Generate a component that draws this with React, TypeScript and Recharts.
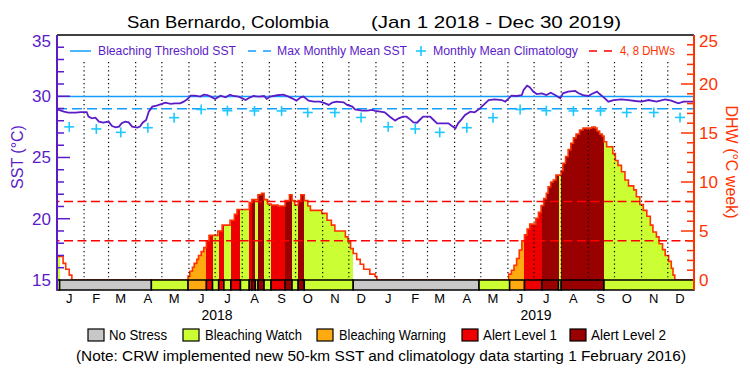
import React from 'react'
import { ComposedChart, Line, Area, XAxis, YAxis, ReferenceLine, ReferenceArea } from 'recharts'

const LAST_DAY = 729

// month boundaries (day index from Jan 1 2018) and their labels
const monthLetters = ['J', 'F', 'M', 'A', 'M', 'J', 'J', 'A', 'S', 'O', 'N', 'D', 'J', 'F', 'M', 'A', 'M', 'J', 'J', 'A', 'S', 'O', 'N', 'D']
const monthStarts = [0, 31, 59, 90, 120, 151, 181, 212, 243, 273, 304, 334, 365, 396, 424, 455, 485, 516, 546, 577, 608, 638, 669, 699]
const monthMid = monthStarts.map((d) => d + 14)
const yearLabels = ['2018', '2019']

// monthly mean climatology, Jan..Dec
const climatology = [27.5, 27.33, 27.05, 27.43, 28.25, 28.92, 28.82, 28.8, 28.8, 28.67, 28.67, 28.27]
const maxMonthlyMean = 28.97
const bleachingThreshold = 29.97
const dhwLevels = [4, 8]

// [day, SST]
const sstSeries = [
  [0, 28.93], [8, 28.74], [13, 28.66], [21, 28.66], [27, 28.71], [34, 28.71], [36, 28.33], [40, 28.2],
  [44, 28.25], [48, 27.93], [53, 27.84], [59, 27.93], [63, 27.57], [67, 27.46], [71, 27.52], [74, 27.79],
  [78, 27.93], [82, 27.87], [86, 27.52], [92, 27.44], [95, 27.52], [98, 27.84], [102, 28.06], [105, 28.74],
  [109, 29.15], [114, 29.23], [120, 29.37], [124, 29.48], [130, 29.37], [135, 29.42], [141, 29.42], [145, 29.56],
  [149, 29.75], [153, 30.05], [158, 30.05], [164, 29.97], [168, 30.13], [172, 30.1], [176, 29.97], [181, 29.78],
  [187, 30.05], [193, 29.91], [198, 30.13], [202, 30.02], [208, 29.97], [216, 29.69], [221, 29.91], [225, 30.02],
  [231, 29.97], [237, 30.02], [240, 29.78], [244, 29.97], [252, 30.08], [259, 30.13], [265, 29.97], [269, 29.83],
  [274, 29.64], [279, 29.91], [282, 29.97], [288, 29.64], [294, 29.56], [301, 29.56], [307, 29.42], [311, 29.29],
  [315, 29.48], [320, 29.56], [328, 29.5], [332, 29.29], [338, 29.15], [341, 28.93], [349, 28.82], [355, 28.82],
  [361, 28.88], [364, 28.8], [370, 28.74], [375, 28.69], [381, 28.33], [387, 28.01], [391, 28.2], [396, 28.33],
  [400, 28.33], [404, 28.11], [408, 27.87], [412, 27.84], [415, 28.06], [419, 28.33], [427, 28.33], [431, 28.06],
  [435, 27.79], [440, 27.79], [448, 27.79], [452, 27.57], [456, 27.38], [459, 27.79], [463, 28.11], [467, 28.47],
  [473, 28.74], [478, 28.69], [484, 29.01], [490, 29.42], [494, 29.69], [501, 29.75], [509, 29.69], [513, 29.56],
  [517, 29.83], [520, 30.05], [526, 30.02], [532, 30.1], [534, 30.51], [538, 30.86], [541, 30.73], [545, 30.38],
  [549, 30.18], [555, 30.24], [560, 30.1], [565, 30.29], [570, 30.1], [576, 29.83], [579, 30.24], [585, 30.38],
  [593, 30.43], [597, 30.24], [602, 30.1], [608, 30.02], [612, 30.18], [618, 30.38], [621, 30.18], [627, 29.83],
  [631, 29.56], [637, 29.69], [646, 29.75], [654, 29.69], [662, 29.61], [669, 29.56], [677, 29.69], [686, 29.56],
  [696, 29.75], [703, 29.64], [711, 29.42], [717, 29.56], [724, 29.56], [729, 29.56],
]

// [day, DHW] change points (step function)
const dhwSeries = [
  [0, 2.4], [7, 1.7], [10, 1.1], [14, 0.5], [17, 0], [150, 0.4], [152, 0.9], [155, 1.3], [157, 1.7],
  [160, 2.1], [162, 2.5], [165, 2.9], [168, 3.3], [171, 4.0], [174, 4.55], [184, 5.0], [189, 5.6], [198, 6.1],
  [203, 6.7], [206, 7.2], [220, 7.9], [223, 8.2], [230, 8.7], [234, 8.85], [237, 8.2], [241, 7.75], [245, 7.65],
  [253, 7.55], [261, 8.1], [266, 8.7], [269, 8.1], [272, 7.65], [276, 8.1], [279, 8.7], [283, 8.1], [287, 7.55],
  [290, 7.1], [303, 6.8], [309, 6.1], [314, 5.6], [318, 5.0], [330, 4.4], [333, 3.9], [336, 3.2], [339, 2.7],
  [343, 2.1], [347, 1.6], [351, 1.1], [358, 0.6], [364, 0.35], [366, 0],
  [517, 0.6], [520, 1.0], [523, 1.5], [526, 2.2], [529, 3.06], [532, 4.0], [535, 4.6], [538, 5.2], [541, 5.7],
  [548, 6.3], [551, 6.9], [554, 7.6], [557, 8.3], [560, 8.85], [562, 9.5], [565, 10.0], [568, 10.2], [571, 10.7],
  [577, 11.15], [579, 11.9], [582, 12.6], [585, 13.3], [588, 13.95], [591, 14.5], [594, 14.9], [598, 15.3],
  [602, 15.5], [607, 15.4], [609, 15.5], [612, 15.6], [616, 15.5], [618, 15.2], [621, 14.9], [624, 14.7],
  [626, 14.1], [629, 13.6], [636, 12.9], [639, 12.2], [642, 11.7], [646, 11.05], [650, 10.2], [654, 9.6],
  [660, 9.2], [663, 8.5], [667, 7.7], [671, 7.1], [675, 6.5], [679, 5.6], [682, 4.9], [686, 4.4], [689, 3.7],
  [693, 3.1], [696, 2.5], [700, 1.9], [703, 1.2], [705, 0.5], [707, 0], [729, 0],
]

// [start day, end day, level]  0 no stress .. 4 alert level 2
const statusSegments = [
  [0, 3, 1], [3, 108, 0], [108, 150, 1], [150, 171, 2], [171, 178, 3], [178, 185, 1], [185, 191, 3],
  [191, 199, 1], [199, 210, 3], [210, 220, 1], [220, 223, 3], [223, 227, 4], [227, 230, 1], [230, 237, 4],
  [237, 245, 1], [245, 261, 3], [261, 269, 4], [269, 276, 1], [276, 283, 4], [283, 339, 1], [339, 483, 0],
  [483, 518, 1], [518, 535, 2], [535, 555, 3], [555, 574, 4], [574, 577, 1], [577, 626, 4], [626, 729, 1],
]
const statusNames = ['No Stress', 'Bleaching Watch', 'Bleaching Warning', 'Alert Level 1', 'Alert Level 2']
const statusColors = ['#c8c8c8', '#ccff33', '#ffaa11', '#ee0000', '#990000']

const sstTicks = [15, 16, 17, 18, 19, 20, 21, 22, 23, 24, 25, 26, 27, 28, 29, 30, 31, 32, 33, 34, 35]
const dhwTicks = [0, 1, 2, 3, 4, 5, 6, 7, 8, 9, 10, 11, 12, 13, 14, 15, 16, 17, 18, 19, 20, 21, 22, 23, 24, 25]

const sstData = sstSeries.map(([day, v]) => ({ day, sst: v }))
const dhwData = dhwSeries.map(([day, v]) => ({ day, dhw: v }))
const climData = [0, 1].flatMap((y) => climatology.map((v, m) => ({ day: monthMid[y * 12 + m], clim: v })))

const PURPLE = '#5b1cc8'
const DHW_RED = '#ff3300'
const THRESH_BLUE = '#119eff'
const CROSS_BLUE = '#1ec8ff'
const FONT = 'Liberation Sans, Arial, sans-serif'

const SstTick = ({ x, y, payload }: any) => {
  const v = payload.value
  const major = v % 5 === 0
  const len = v === 15 || v === 35 ? 0 : major ? 13 : 7
  return (
    <g>
      {len > 0 && <line x1={x} x2={x + len} y1={y} y2={y} stroke={PURPLE} strokeWidth={1.5} />}
      {major && (
        <text x={x - 6} y={v === 35 ? y + 6 : y} dy="0.35em" textAnchor="end" fill={PURPLE} fontSize={17} fontFamily={FONT}>
          {v}
        </text>
      )}
    </g>
  )
}

const DhwTick = ({ x, y, payload }: any) => {
  const v = payload.value
  const major = v % 5 === 0
  const len = v === 0 || v === 25 ? 0 : major ? 13 : 7
  return (
    <g>
      {len > 0 && <line x1={x} x2={x - len} y1={y} y2={y} stroke={DHW_RED} strokeWidth={1.5} />}
      {major && (
        <text x={x + 5} y={v === 25 ? y + 6 : y} dy="0.35em" textAnchor="start" fill={DHW_RED} fontSize={17} fontFamily={FONT}>
          {v}
        </text>
      )}
    </g>
  )
}

const CrossDot = ({ cx, cy }: any) => (
  <g>
    <line x1={cx - 5} x2={cx + 5} y1={cy} y2={cy} stroke={CROSS_BLUE} strokeWidth={1.6} />
    <line x1={cx} x2={cx} y1={cy - 5} y2={cy + 5} stroke={CROSS_BLUE} strokeWidth={1.6} />
  </g>
)

function Overlay() {
  const legendBoxes = [88, 183, 317, 462, 570]
  const legendText = [[109, 58], [205, 97], [339, 107], [483, 74], [591, 75]]
  return (
    <svg width={750} height={375} style={{ position: 'absolute', left: 0, top: 0, pointerEvents: 'none' }} fontFamily={FONT}>
      <text x={127} y={22} dy="0.35em" fontSize={17} textLength={202} lengthAdjust="spacingAndGlyphs">San Bernardo, Colombia</text>
      <text x={371} y={22} dy="0.35em" fontSize={17} textLength={250} lengthAdjust="spacingAndGlyphs">(Jan 1 2018 - Dec 30 2019)</text>

      <line x1={70} x2={91} y1={51} y2={51} stroke={THRESH_BLUE} strokeWidth={1.5} />
      <text x={98} y={51} dy="0.35em" fontSize={12.5} fill={PURPLE} textLength={138} lengthAdjust="spacingAndGlyphs">Bleaching Threshold SST</text>
      <line x1={248} x2={271} y1={51} y2={51} stroke={THRESH_BLUE} strokeWidth={1.5} strokeDasharray="8 7" />
      <text x={277} y={51} dy="0.35em" fontSize={12.5} fill={PURPLE} textLength={130} lengthAdjust="spacingAndGlyphs">Max Monthly Mean SST</text>
      <CrossDot cx={421} cy={51} />
      <text x={433} y={51} dy="0.35em" fontSize={12.5} fill={PURPLE} textLength={145} lengthAdjust="spacingAndGlyphs">Monthly Mean Climatology</text>
      <line x1={589} x2={612} y1={51} y2={51} stroke="#ff0000" strokeWidth={1.5} strokeDasharray="8 7" />
      <text x={620} y={51} dy="0.35em" fontSize={12.5} fill={DHW_RED} textLength={55} lengthAdjust="spacingAndGlyphs">4, 8 DHWs</text>

      <text transform="translate(17,157) rotate(-90)" textAnchor="middle" dy="0.35em" fontSize={16} fill={PURPLE}>SST (°C)</text>
      <text transform="translate(732,162) rotate(90)" textAnchor="middle" dy="0.35em" fontSize={16} fill={DHW_RED}>DHW (°C week)</text>

      <text x={217} y={315} dy="0.35em" textAnchor="middle" fontSize={14}>{yearLabels[0]}</text>
      <text x={536} y={315} dy="0.35em" textAnchor="middle" fontSize={14}>{yearLabels[1]}</text>

      {statusNames.map((name, i) => (
        <g key={name}>
          <rect x={legendBoxes[i]} y={329} width={16} height={12} fill={statusColors[i]} stroke="#000" strokeWidth={1.2} />
          <text x={legendText[i][0]} y={335} dy="0.35em" fontSize={14} textLength={legendText[i][1]} lengthAdjust="spacingAndGlyphs">{name}</text>
        </g>
      ))}
      <text x={76} y={356} dy="0.35em" fontSize={14} textLength={610} lengthAdjust="spacingAndGlyphs">
        (Note: CRW implemented new 50-km SST and climatology data starting 1 February 2016)
      </text>
    </svg>
  )
}

export default function App() {
  return (
    <div style={{ position: 'absolute', left: 0, top: 0, width: 750, height: 375, background: '#fff' }}>
      <ComposedChart width={750} height={375} margin={{ top: 35, right: 0, bottom: 55, left: 0 }}>
        <defs>
          <linearGradient id="statusFill" x1="0" y1="0" x2="1" y2="0">
            {statusSegments.flatMap(([s, e, lvl], i) => [
              <stop key={`a${i}`} offset={s / LAST_DAY} stopColor={statusColors[lvl]} stopOpacity={lvl === 0 ? 0 : 1} />,
              <stop key={`b${i}`} offset={e / LAST_DAY} stopColor={statusColors[lvl]} stopOpacity={lvl === 0 ? 0 : 1} />,
            ])}
          </linearGradient>
        </defs>
        <XAxis
          type="number"
          dataKey="day"
          domain={[0, LAST_DAY]}
          ticks={monthMid}
          interval={0}
          tickFormatter={(_v: number, i: number) => monthLetters[i]}
          axisLine={false}
          tickLine={false}
          tickSize={0}
          tickMargin={4}
          height={30}
          allowDataOverflow
          tick={{ fill: '#000', fontSize: 13, fontFamily: FONT }}
        />
        <YAxis
          yAxisId="sst"
          orientation="left"
          width={57}
          domain={[14.18, 35]}
          ticks={sstTicks}
          interval={0}
          allowDataOverflow
          axisLine={{ stroke: PURPLE, strokeWidth: 2 }}
          tickLine={false}
          tickSize={0}
          tickMargin={0}
          tick={<SstTick />}
        />
        <YAxis
          yAxisId="dhw"
          orientation="right"
          width={56}
          domain={[-1.02, 25]}
          ticks={dhwTicks}
          interval={0}
          allowDataOverflow
          axisLine={{ stroke: DHW_RED, strokeWidth: 2 }}
          tickLine={false}
          tickSize={0}
          tickMargin={0}
          tick={<DhwTick />}
        />

        <Area
          yAxisId="dhw"
          data={dhwData}
          dataKey="dhw"
          type="stepAfter"
          baseValue={0}
          stroke={DHW_RED}
          strokeWidth={1.6}
          fill="url(#statusFill)"
          fillOpacity={1}
          dot={false}
          activeDot={false}
          isAnimationActive={false}
        />
        {statusSegments.map(([s, e, lvl], i) => (
          <ReferenceArea
            key={`st${i}`}
            yAxisId="dhw"
            x1={s}
            x2={e}
            y1={-1.02}
            y2={0}
            fill={statusColors[lvl]}
            fillOpacity={1}
            stroke="#000"
            strokeWidth={1.5}
          />
        ))}

        {monthStarts.slice(1).map((d) => (
          <ReferenceLine
            key={`m${d}`}
            yAxisId="sst"
            segment={[{ x: d, y: 32.8 }, { x: d, y: 15 }]}
            stroke="#000"
            strokeWidth={1.2}
            strokeDasharray="1.2 3"
          />
        ))}
        {dhwLevels.map((v) => (
          <ReferenceLine key={`d${v}`} yAxisId="dhw" y={v} stroke="#ff0000" strokeWidth={1.5} strokeDasharray="9 4.5" />
        ))}
        <ReferenceLine yAxisId="sst" y={35} stroke="#000" strokeWidth={1.5} />
        <ReferenceLine yAxisId="sst" y={bleachingThreshold} stroke={THRESH_BLUE} strokeWidth={1.5} />
        <ReferenceLine yAxisId="sst" y={maxMonthlyMean} stroke={THRESH_BLUE} strokeWidth={1.5} strokeDasharray="10 5" />

        <Line
          yAxisId="sst"
          data={sstData}
          dataKey="sst"
          type="linear"
          stroke={PURPLE}
          strokeWidth={1.8}
          dot={false}
          activeDot={false}
          isAnimationActive={false}
        />
        <Line
          yAxisId="sst"
          data={climData}
          dataKey="clim"
          stroke="none"
          dot={<CrossDot />}
          activeDot={false}
          isAnimationActive={false}
        />
      </ComposedChart>
      <Overlay />
    </div>
  )
}
